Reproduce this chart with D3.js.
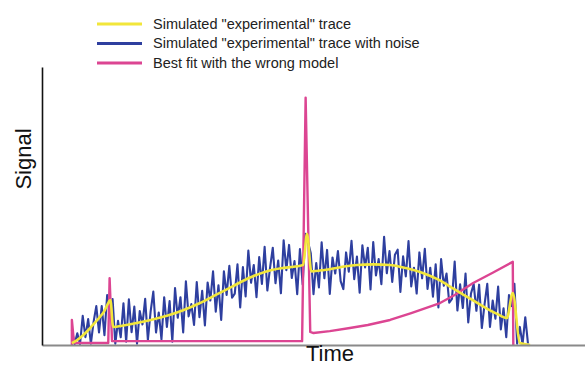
<!DOCTYPE html>
<html lang="en">
<head>
  <meta charset="UTF-8" />
  <title>Signal vs Time</title>
  <style>
    body {
      margin: 0;
      background: #fff;
      font-family: 'Liberation Sans', Arial, sans-serif;
    }
    svg { display: block; }
    .legend text { font-size: 14.5px; fill: #222; }
    .axis-label { font-size: 22px; fill: #111; }
  </style>
</head>
<body>
  <svg width="585" height="366"></svg>

  <script src="https://d3js.org/d3.v7.min.js"></script>
  <script>
    // --- data (time and signal in arbitrary units 0..100)
    const legendLabels = [
      'Simulated "experimental" trace',
      'Simulated "experimental" trace with noise',
      'Best fit with the wrong model'
    ];
    const xLabel = "Time";
    const yLabel = "Signal";

    // clean simulated trace [time, signal]
    const yellowTrace = [
      [5.5,0.7],[6.5,1.8],[7.5,3.4],[8.5,5.3],[9.5,7.5],[10.5,9.7],[11.5,12.3],[12.3,15.5],
      [12.6,16.2],[13.1,6.5],[15,7],[20,9],[23,10.5],[26,12.5],[29,15],[32,18],[35,21],
      [38,24],[41,26.3],[44,27.6],[47,28.3],[48.1,28.8],[48.8,40],[49.6,26.5],[52,27],
      [55,28],[58,28.8],[61,29],[64,28.8],[67,27.7],[70,26],[73,23.5],[76,20],[79,16.5],
      [82,13],[84,11],[85.6,9.7],[86.7,18.7],[88,0.7],[89.9,0]
    ];

    // noisy trace, sampled every 0.5 time units from 5.5
    const noisyStart = 5.5, noisyStep = 0.5;
    const noisyTrace = [
      5.5,0.3,4.2,0.3,10.5,2.8,9.3,0.5,8.3,14,4.5,14,3.5,18,13,
      16.5,0.5,8.7,2.8,15,
      1.2,16.4,4.6,13.8,0.5,12.2,7.4,16.6,1.8,12,19.2,4.5,11.7,2,17.2,6.5,15.8,1.2,20.5,9.8,
      17.2,4.5,22.9,10.3,14.7,7.2,22.6,10,19.5,7,22.5,16,26.5,12,21.5,9,26.5,18,28.5,17,
      18.5,29,13.5,28,17.5,34,22.4,28.8,17.2,31.6,22,35.3,19.6,27.8,35,22.2,30.4,18.6,37.7,26.9,
      36,24.1,30.2,18.3,34.5,21.8,40,37,33,18.3,29.5,20.7,36.9,24,34.2,18.4,31.5,25.7,33.8,23,
      20.1,33.3,26.4,37.5,23.7,31.8,18.8,35.9,27.9,35,20,37,25,30.9,21.9,38.9,25.8,33.8,22.7,32.5,
      34.3,19.1,31.9,24.7,37.4,21.1,27.8,18.5,33.3,24,34.6,20.2,27.8,17.4,29,13.5,30.9,21.3,25.7,15.2,
      16.6,30,12.4,21.8,13.3,25.7,8.1,18.5,21.9,12.3,21.7,6.1,14.6,22,6.5,16,9.5,21,5.6,13.2,
      2.8,18,14,22,0.5,6.5,0.3,10,0.5
    ];

    // fitted curve from the wrong model [time, signal]
    const fitTrace = [
      [5.5,0],[5.5,9],[5.9,0.7],[12.2,0.7],[12.45,24],[12.9,1.4],[47.9,1.4],
      [48.55,89],[49.4,4.7],[50,4.3],[53,5],[56.7,6.1],[60,7.2],[64.1,9],[68,11.5],
      [73.3,15.1],[76,18],[79.4,22.3],[83,26],[86.7,29.9],[86.8,0]
    ];

    const colors = ["#f2e63a", "#2e3f9f", "#dc4592"];

    // --- layout
    const svg = d3.select("svg");
    const x = d3.scaleLinear().domain([0, 100]).range([42, 585]);
    const y = d3.scaleLinear().domain([0, 100]).range([345, 67]);

    const line = d3.line().x(d => x(d[0])).y(d => y(d[1]));

    // noisy trace
    svg.append("path")
      .datum(noisyTrace.map((v, i) => [noisyStart + i * noisyStep, v]))
      .attr("fill", "none")
      .attr("stroke", colors[1])
      .attr("stroke-width", 2.1)
      .attr("stroke-linejoin", "round")
      .attr("d", line);

    // wrong-model fit
    svg.append("path")
      .datum(fitTrace)
      .attr("fill", "none")
      .attr("stroke", colors[2])
      .attr("stroke-width", 2.4)
      .attr("stroke-linejoin", "round")
      .attr("d", line);

    // clean trace
    svg.append("path")
      .datum(yellowTrace)
      .attr("fill", "none")
      .attr("stroke", colors[0])
      .attr("stroke-width", 2.6)
      .attr("stroke-linejoin", "round")
      .attr("d", line.curve(d3.curveMonotoneX));

    // axes: plain lines, no ticks
    svg.append("g")
      .attr("transform", `translate(0,${y(0)})`)
      .call(d3.axisBottom(x).ticks(0).tickSizeOuter(0))
      .select(".domain").attr("stroke", "#8a8a8a").attr("stroke-width", 2);

    svg.append("g")
      .attr("transform", `translate(${x(0)},0)`)
      .call(d3.axisLeft(y).ticks(0).tickSizeOuter(0))
      .select(".domain").attr("stroke", "#111").attr("stroke-width", 1.6);

    svg.append("text")
      .attr("class", "axis-label")
      .attr("x", 330).attr("y", 361)
      .attr("text-anchor", "middle")
      .text(xLabel);

    svg.append("text")
      .attr("class", "axis-label")
      .attr("transform", "translate(31,159) rotate(-90)")
      .attr("text-anchor", "middle")
      .text(yLabel);

    // legend
    const legend = svg.append("g").attr("class", "legend");
    const rowY = [24, 43.5, 63];
    legendLabels.forEach((lab, i) => {
      legend.append("line")
        .attr("x1", 97).attr("x2", 142)
        .attr("y1", rowY[i]).attr("y2", rowY[i])
        .attr("stroke", colors[i]).attr("stroke-width", 3);
      legend.append("text")
        .attr("x", 153).attr("y", rowY[i] + 4.5)
        .text(lab);
    });
  </script>
</body>
</html>
